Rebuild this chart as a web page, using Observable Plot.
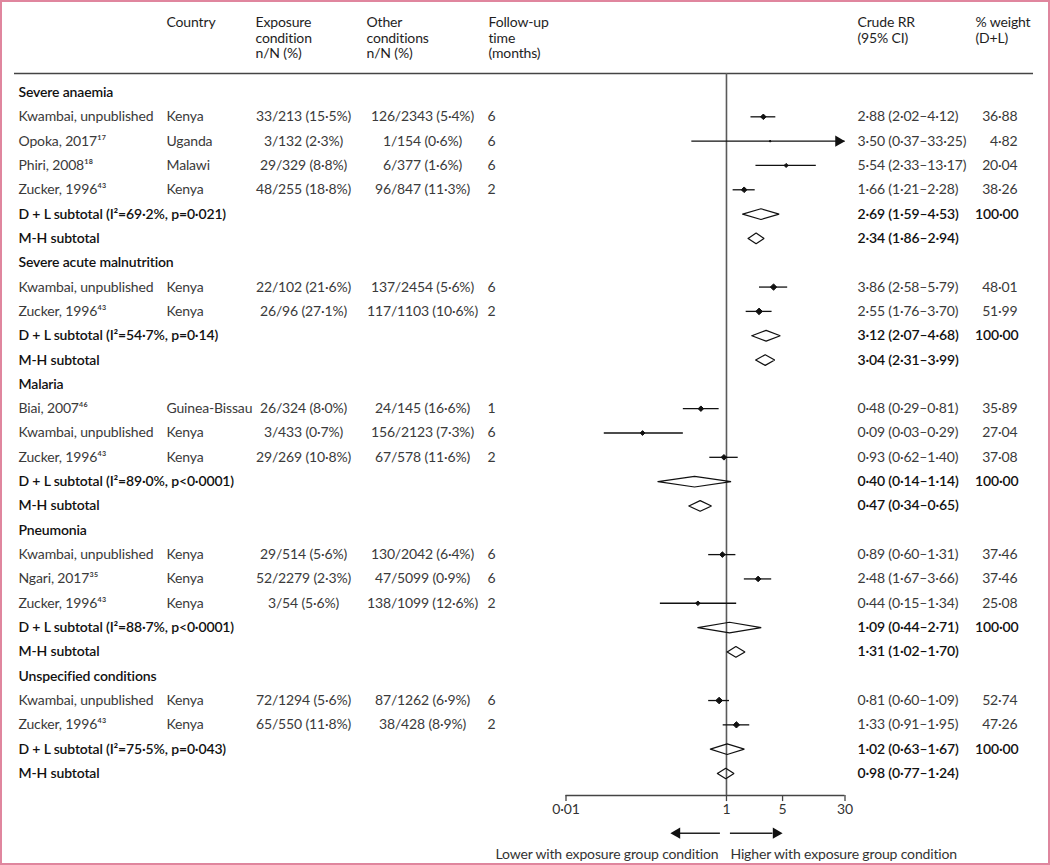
<!DOCTYPE html>
<html>
<head>
<meta charset="utf-8">
<script src="https://cdn.jsdelivr.net/npm/d3@7"></script>
<script src="https://cdn.jsdelivr.net/npm/@observablehq/plot@0.6"></script>
<style>
  html, body { margin: 0; padding: 0; background: #fff; }
  #wrap { position: relative; width: 1050px; height: 865px; overflow: hidden; }
  #border { position: absolute; inset: 0; border: 2px solid #e0869e; box-sizing: border-box; pointer-events: none; }
</style>
</head>
<body>
<div id="wrap"><div id="border"></div></div>
<script>
// ---------------- data ----------------
const groups = ["Severe anaemia", "Severe acute malnutrition", "Malaria", "Pneumonia", "Unspecified conditions"];

const studyGroup = [0, 0, 0, 0, 1, 1, 2, 2, 2, 3, 3, 3, 4, 4];
const studyName = ["Kwambai, unpublished", "Opoka, 2017", "Phiri, 2008", "Zucker, 1996",
  "Kwambai, unpublished", "Zucker, 1996",
  "Biai, 2007", "Kwambai, unpublished", "Zucker, 1996",
  "Kwambai, unpublished", "Ngari, 2017", "Zucker, 1996",
  "Kwambai, unpublished", "Zucker, 1996"];
const studyRef = ["", "17", "18", "43", "", "43", "46", "", "43", "", "35", "43", "", "43"];
const country = ["Kenya", "Uganda", "Malawi", "Kenya", "Kenya", "Kenya", "Guinea-Bissau", "Kenya", "Kenya",
  "Kenya", "Kenya", "Kenya", "Kenya", "Kenya"];
const exposureCond = ["33/213 (15·5%)", "3/132 (2·3%)", "29/329 (8·8%)", "48/255 (18·8%)",
  "22/102 (21·6%)", "26/96 (27·1%)",
  "26/324 (8·0%)", "3/433 (0·7%)", "29/269 (10·8%)",
  "29/514 (5·6%)", "52/2279 (2·3%)", "3/54 (5·6%)",
  "72/1294 (5·6%)", "65/550 (11·8%)"];
const otherCond = ["126/2343 (5·4%)", "1/154 (0·6%)", "6/377 (1·6%)", "96/847 (11·3%)",
  "137/2454 (5·6%)", "117/1103 (10·6%)",
  "24/145 (16·6%)", "156/2123 (7·3%)", "67/578 (11·6%)",
  "130/2042 (6·4%)", "47/5099 (0·9%)", "138/1099 (12·6%)",
  "87/1262 (6·9%)", "38/428 (8·9%)"];
const followUp = [6, 6, 6, 2, 6, 2, 1, 6, 2, 6, 6, 2, 6, 2];
const rrEst = [2.88, 3.50, 5.54, 1.66, 3.86, 2.55, 0.48, 0.09, 0.93, 0.89, 2.48, 0.44, 0.81, 1.33];
const rrLo  = [2.02, 0.37, 2.33, 1.21, 2.58, 1.76, 0.29, 0.03, 0.62, 0.60, 1.67, 0.15, 0.60, 0.91];
const rrHi  = [4.12, 33.25, 13.17, 2.28, 5.79, 3.70, 0.81, 0.29, 1.40, 1.31, 3.66, 1.34, 1.09, 1.95];
const weightDL = [36.88, 4.82, 20.04, 38.26, 48.01, 51.99, 35.89, 27.04, 37.08, 37.46, 37.46, 25.08, 52.74, 47.26];

const dlI2 = ["69·2%", "54·7%", "89·0%", "88·7%", "75·5%"];
const dlP = ["p=0·021", "p=0·14", "p<0·0001", "p<0·0001", "p=0·043"];
const dlRR = [2.69, 3.12, 0.40, 1.09, 1.02];
const dlLo = [1.59, 2.07, 0.14, 0.44, 0.63];
const dlHi = [4.53, 4.68, 1.14, 2.71, 1.67];
const mhRR = [2.34, 3.04, 0.47, 1.31, 0.98];
const mhLo = [1.86, 2.31, 0.34, 1.02, 0.77];
const mhHi = [2.94, 3.99, 0.65, 1.70, 1.24];

const axisTicks = [0.01, 1, 5, 30];
const headers = [
  {key: "country", text: "Country"},
  {key: "exposure", text: "Exposure\ncondition\nn/N (%)"},
  {key: "other", text: "Other\nconditions\nn/N (%)"},
  {key: "follow", text: "Follow-up\ntime\n(months)"},
  {key: "rr", text: "Crude RR\n(95% CI)"},
  {key: "weight", text: "% weight\n(D+L)"}
];
const lowerLabel = "Lower with exposure group condition";
const higherLabel = "Higher with exposure group condition";

// ---------------- derived table ----------------
const supMap = {"0":"⁰","1":"¹","2":"²","3":"³","4":"⁴","5":"⁵","6":"⁶","7":"⁷","8":"⁸","9":"⁹"};
const sup = s => s.split("").map(c => supMap[c] || c).join("");
const f2 = v => v.toFixed(2).replace(".", "·");
const ci = (e, l, h) => `${f2(e)} (${f2(l)}–${f2(h)})`;
const axisMax = d3.max(axisTicks), axisMin = d3.min(axisTicks);

const rows = [];
let r = 0;
groups.forEach((g, gi) => {
  rows.push({row: r++, type: "group", label: g, bold: true});
  studyGroup.forEach((sg, i) => {
    if (sg !== gi) return;
    rows.push({
      row: r++, type: "study", bold: false,
      label: studyName[i] + sup(studyRef[i]),
      country: country[i], exposure: exposureCond[i], other: otherCond[i],
      follow: String(followUp[i]),
      rr: rrEst[i], lo: rrLo[i], hi: rrHi[i],
      loC: Math.max(rrLo[i], axisMin), hiC: Math.min(rrHi[i], axisMax),
      ciText: ci(rrEst[i], rrLo[i], rrHi[i]),
      weight: weightDL[i], weightText: f2(weightDL[i])
    });
  });
  rows.push({row: r++, type: "dl", bold: true,
    label: `D + L subtotal (I²=${dlI2[gi]}, ${dlP[gi]})`,
    rr: dlRR[gi], lo: dlLo[gi], hi: dlHi[gi], ciText: ci(dlRR[gi], dlLo[gi], dlHi[gi]),
    weightText: f2(100)});
  rows.push({row: r++, type: "mh", bold: true, label: "M-H subtotal",
    rr: mhRR[gi], lo: mhLo[gi], hi: mhHi[gi], ciText: ci(mhRR[gi], mhLo[gi], mhHi[gi]), weightText: ""});
});
const studies = rows.filter(d => d.type === "study");
const subtotals = rows.filter(d => d.type === "dl" || d.type === "mh");
const halfH = 0.22;
const diamondPts = subtotals.flatMap((d, i) => [
  {id: i, x: d.lo, y: d.row}, {id: i, x: d.rr, y: d.row - halfH},
  {id: i, x: d.hi, y: d.row}, {id: i, x: d.rr, y: d.row + halfH}, {id: i, x: d.lo, y: d.row}
]);
const lastRow = d3.max(rows, d => d.row);

// ---------------- plot ----------------
const REG = "#3a3a3a", BOLD = "#111";
const colText = (filterFn, field, dx, anchor, bold) => Plot.text(rows, {
  filter: d => filterFn(d) && d[field] != null && d[field] !== "",
  y: "row", text: field, frameAnchor: "left", dx, textAnchor: anchor,
  fill: bold ? BOLD : REG, fontWeight: bold ? 600 : 400
});
const headerDx = {country: 152, exposure: 241, other: 352, follow: 474, rr: 843, weight: 961};

const chart = Plot.plot({
  width: 1050, height: 865,
  marginTop: 73, marginBottom: 70, marginLeft: 14, marginRight: 17,
  style: {fontFamily: "Lato, 'Open Sans', sans-serif", fontSize: "14px", letterSpacing: "-0.15px", background: "transparent", color: "#222"},
  x: {type: "log", domain: [axisMin, axisMax], range: [565.5, 844.5], axis: null},
  y: {domain: [0, lastRow], range: [92, 773], axis: null},
  r: {type: "sqrt", domain: [0, 60], range: [0, 3.2]},
  marks: [
    // header rule & header text
    Plot.ruleY([0], {dy: -19, stroke: "#444", strokeWidth: 1.3}),
    ...headers.map(h => Plot.text([h], {text: "text", frameAnchor: "top-left", dx: headerDx[h.key], dy: -58,
      lineAnchor: "top", lineHeight: 1.13, textAnchor: "start", fill: "#1e1e1e"})),
    // null line
    Plot.ruleX([1], {stroke: "#5a5a5a", strokeWidth: 1.6}),
    // axis line, ticks, labels
    Plot.ruleY([lastRow], {x1: axisMin, x2: axisMax, dy: 22, stroke: "#444", strokeWidth: 1.3}),
    Plot.ruleX(axisTicks, {x: d => d, y1: () => lastRow, y2: () => lastRow + 0.25, dy: 22, stroke: "#444", strokeWidth: 1.3}),
    Plot.text(axisTicks, {x: d => d, text: d => String(d).replace(".", "·"), frameAnchor: "bottom", lineAnchor: "middle", dy: 14, fill: "#333"}),
    // text columns
    colText(d => !d.bold, "label", 4, "start", false),
    colText(d => d.bold, "label", 4, "start", true),
    colText(d => true, "country", 152, "start", false),
    colText(d => true, "exposure", 289, "middle", false),
    colText(d => true, "other", 408, "middle", false),
    colText(d => true, "follow", 473, "start", false),
    colText(d => !d.bold, "ciText", 843, "start", false),
    colText(d => d.bold, "ciText", 843, "start", true),
    colText(d => !d.bold, "weightText", 1003, "end", false),
    colText(d => d.bold, "weightText", 1004, "end", true),
    // study CIs and estimates
    Plot.ruleY(studies, {y: "row", x1: "loC", x2: "hiC", stroke: "#111", strokeWidth: 1.3}),
    Plot.dot(studies.filter(d => d.hi > axisMax), {x: () => axisMax, y: "row", symbol: "triangle", rotate: 90,
      r: 4.2, dx: -6.5, fill: "#111", stroke: "none"}),
    Plot.dot(studies, {x: "rr", y: "row", r: "weight", symbol: "diamond2", fill: "#111", stroke: "#111", strokeWidth: 1}),
    // subtotal diamonds
    Plot.line(diamondPts, {x: "x", y: "y", z: "id", stroke: "#111", strokeWidth: 1.2, fill: "none", strokeLinejoin: "miter"}),
    // direction arrows
    Plot.ruleY([lastRow], {x1: 0.84, x2: 0.26, dy: 59.7, stroke: "#222", strokeWidth: 1.4}),
    Plot.ruleY([lastRow], {x1: 1.12, x2: 3.8, dy: 59.7, stroke: "#222", strokeWidth: 1.4}),
    Plot.dot([0.2], {x: d => d, y: () => lastRow, dy: 59.7, dx: 6.5, symbol: "triangle", rotate: -90, r: 4.2, fill: "#111", stroke: "none"}),
    Plot.dot([5], {x: d => d, y: () => lastRow, dy: 59.7, dx: -6.5, symbol: "triangle", rotate: 90, r: 4.2, fill: "#111", stroke: "none"}),
    Plot.text([lowerLabel], {x: () => 1, text: d => d, frameAnchor: "bottom", dy: 63.5, dx: -8, textAnchor: "end", fill: "#333"}),
    Plot.text([higherLabel], {x: () => 1, text: d => d, frameAnchor: "bottom", dy: 63.5, dx: 4, textAnchor: "start", fill: "#333"})
  ]
});
document.getElementById("wrap").prepend(chart);
</script>
</body>
</html>
